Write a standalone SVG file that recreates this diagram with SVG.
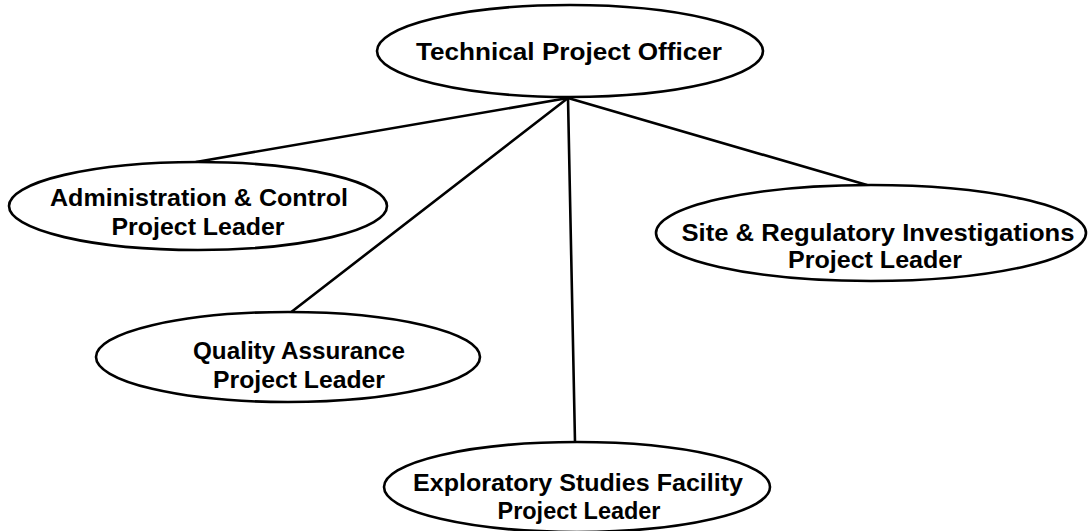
<svg xmlns="http://www.w3.org/2000/svg" width="1089" height="531" viewBox="0 0 1089 531">
<style>
.node ellipse{fill:#fff;stroke:#000;stroke-width:2.6}
.node text{font-family:"Liberation Sans",Arial,sans-serif;font-weight:bold;font-size:24px;fill:#000;text-anchor:middle}
.conn line{stroke:#000;stroke-width:2.6;stroke-linecap:round}
</style>
<rect width="1089" height="531" fill="#fff"/>
<g id="connectors" class="conn">
<line x1="568" y1="98" x2="196" y2="162"/>
<line x1="568" y1="98" x2="290" y2="313"/>
<line x1="568" y1="98" x2="575" y2="442"/>
<line x1="568" y1="98" x2="867" y2="185"/>
</g>
<g id="technical-project-officer" class="node">
<ellipse cx="570" cy="51" rx="193" ry="46"/>
<text x="569" y="60" textLength="306" lengthAdjust="spacingAndGlyphs">Technical Project Officer</text>
</g>
<g id="administration-control" class="node">
<ellipse cx="198" cy="206" rx="189" ry="44"/>
<text x="199" y="206" textLength="298" lengthAdjust="spacingAndGlyphs">Administration &amp; Control</text>
<text x="198" y="235" textLength="173" lengthAdjust="spacingAndGlyphs">Project Leader</text>
</g>
<g id="site-regulatory" class="node">
<ellipse cx="871" cy="233" rx="215" ry="48"/>
<text x="878" y="241" textLength="393" lengthAdjust="spacingAndGlyphs">Site &amp; Regulatory Investigations</text>
<text x="875" y="268" textLength="174" lengthAdjust="spacingAndGlyphs">Project Leader</text>
</g>
<g id="quality-assurance" class="node">
<ellipse cx="288" cy="357" rx="192" ry="45"/>
<text x="299" y="359" textLength="212" lengthAdjust="spacingAndGlyphs">Quality Assurance</text>
<text x="299" y="388" textLength="172" lengthAdjust="spacingAndGlyphs">Project Leader</text>
</g>
<g id="exploratory-studies" class="node">
<ellipse cx="577" cy="487" rx="193" ry="45"/>
<text x="578" y="491" textLength="330" lengthAdjust="spacingAndGlyphs">Exploratory Studies Facility</text>
<text x="579" y="519" textLength="163" lengthAdjust="spacingAndGlyphs">Project Leader</text>
</g>
</svg>
